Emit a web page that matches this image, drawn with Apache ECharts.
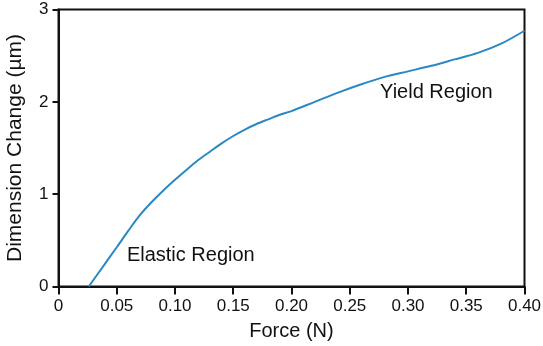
<!DOCTYPE html>
<html>
<head>
<meta charset="utf-8">
<script src="https://cdn.jsdelivr.net/npm/echarts@6/dist/echarts.min.js"></script>
<style>
html,body{margin:0;padding:0;background:#fff;}
#chart{width:543px;height:346px;}
</style>
</head>
<body>
<div id="chart"></div>
<script>
const forceN = [0.026, 0.04, 0.05, 0.06, 0.07, 0.08, 0.09, 0.10, 0.11, 0.12, 0.13, 0.14, 0.15, 0.16, 0.17, 0.18, 0.19, 0.20, 0.22, 0.24, 0.26, 0.28, 0.30, 0.32, 0.34, 0.36, 0.38, 0.40];
const dimChange = [0, 0.248, 0.425, 0.605, 0.775, 0.915, 1.04, 1.155, 1.265, 1.37, 1.46, 1.55, 1.63, 1.70, 1.76, 1.81, 1.86, 1.90, 2.00, 2.10, 2.19, 2.27, 2.33, 2.39, 2.46, 2.53, 2.63, 2.77];
const annotations = [
  { text: 'Elastic Region', x: 0.0587, y: 0.338 },
  { text: 'Yield Region', x: 0.276, y: 2.098 }
];
const xTicks = ['0', '0.05', '0.10', '0.15', '0.20', '0.25', '0.30', '0.35', '0.40'];
const yTicks = ['0', '1', '2', '3'];

const FONT = 'Liberation Sans';
const chart = echarts.init(document.getElementById('chart'), null, { renderer: 'canvas' });
chart.setOption({
  animation: false,
  backgroundColor: '#fff',
  grid: {
    left: 58.5, right: 18.5, top: 9.5, bottom: 59.5,
    containLabel: false,
    outerBoundsMode: 'none',
    show: true, borderColor: '#111', borderWidth: 2
  },
  xAxis: {
    type: 'value', min: 0, max: 0.4, interval: 0.05,
    name: 'Force (N)', nameLocation: 'middle', nameGap: 35,
    nameTextStyle: { fontFamily: FONT, fontSize: 20, color: '#111' },
    axisLine: { lineStyle: { color: '#111', width: 2 } },
    axisTick: { show: true, length: 8, lineStyle: { color: '#111', width: 2 } },
    axisLabel: {
      fontFamily: FONT, fontSize: 17, color: '#111', margin: 11,
      formatter: v => xTicks[Math.round(v / 0.05)]
    },
    splitLine: { show: false }
  },
  yAxis: {
    type: 'value', min: 0, max: 3, interval: 1,
    name: 'Dimension Change (µm)', nameLocation: 'middle', nameGap: 33,
    nameTextStyle: { fontFamily: FONT, fontSize: 21, color: '#111' },
    axisLine: { show: true, lineStyle: { color: '#111', width: 2 } },
    axisTick: { show: true, length: 6, lineStyle: { color: '#111', width: 2 } },
    axisLabel: {
      fontFamily: FONT, fontSize: 17, color: '#111', margin: 10,
      formatter: v => yTicks[Math.round(v)]
    },
    splitLine: { show: false }
  },
  series: [
    {
      type: 'line',
      data: forceN.map((x, i) => [x, dimChange[i]]),
      smooth: 0.3,
      showSymbol: false,
      lineStyle: { color: '#2a88c4', width: 2 },
      z: 3
    },
    {
      type: 'scatter',
      data: annotations.map(a => ({ value: [a.x, a.y], name: a.text })),
      symbolSize: 0,
      silent: true,
      itemStyle: { opacity: 1 },
      label: {
        show: true, position: 'right', distance: 0, opacity: 1,
        formatter: p => p.name,
        fontFamily: FONT, fontSize: 20, color: '#111'
      }
    }
  ]
});
</script>
</body>
</html>
